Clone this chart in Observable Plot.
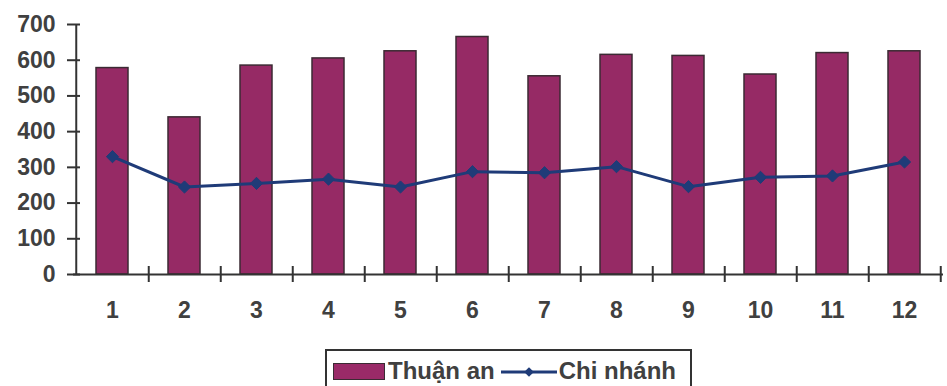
<!DOCTYPE html>
<html>
<head>
<meta charset="utf-8">
<script src="https://cdn.jsdelivr.net/npm/d3@7"></script>
<script src="https://cdn.jsdelivr.net/npm/@observablehq/plot@0.6"></script>
<style>
  body { margin: 0; background: #fff; font-family: "Liberation Sans", Arial, sans-serif; }
  #wrap { position: relative; width: 947px; height: 386px; overflow: hidden; }
  #legend {
    position: absolute; left: 325px; top: 349px; width: 367px; height: 50px;
    box-sizing: border-box; border: 2px solid #333; background: #fff;
    display: flex; align-items: flex-start; padding: 6px 0 0 6px;
    font-size: 24px; font-weight: bold; line-height: 28px; color: #404040;
  }
  #legend .bar { width: 52px; height: 17px; margin: 6px 3px 0 0; background: #9a2a68; border: 1px solid #3b2a33; box-sizing: border-box; }
  #legend svg { margin: 0 2px 0 6px; }
</style>
</head>
<body>
<div id="wrap"><div id="chart"></div><div id="legend"></div></div>
<script>
// Monthly figures: bars for Thuận an, line for Chi nhánh
const months = ["1", "2", "3", "4", "5", "6", "7", "8", "9", "10", "11", "12"];
const thuanAn = [578, 440, 585, 605, 625, 665, 555, 615, 612, 560, 620, 625];
const chiNhanh = [330, 245, 255, 267, 245, 288, 285, 302, 246, 272, 276, 315];
const yTicks = [0, 100, 200, 300, 400, 500, 600, 700];
const seriesNames = ["Thuận an", "Chi nhánh"];

const barColor = "#962a65";
const barEdge = "#3b2a33";
const lineColor = "#1f3b78";
const axisColor = "#333";

const data = months.map((m, i) => ({month: m, thuanAn: thuanAn[i], chiNhanh: chiNhanh[i]}));

const width = 947, height = 340;
const marginLeft = 73, marginRight = 4, marginTop = 24, marginBottom = 66;
const step = (width - marginLeft - marginRight) / months.length;

const plot = Plot.plot({
  width, height, marginLeft, marginRight, marginTop, marginBottom,
  style: {fontFamily: "'Liberation Sans', Arial, sans-serif", fontSize: "23px", fontWeight: "bold", color: "#404040", background: "#fff", overflow: "visible"},
  x: {type: "band", domain: months, padding: 0, axis: null},
  y: {domain: [0, 700], axis: null},
  marks: [
    Plot.barY(data, {x: "month", y: "thuanAn", fill: barColor, stroke: barEdge, strokeWidth: 1.5, insetLeft: 20, insetRight: 20}),
    // vertical axis line at the left edge of the first band
    Plot.ruleX([months[0]], {dx: -step / 2, y1: 0, y2: 700, stroke: axisColor, strokeWidth: 2}),
    Plot.ruleY([0], {stroke: axisColor, strokeWidth: 2}),
    // y ticks crossing the axis line, labels on the left
    Plot.axisY({ticks: yTicks, tickSize: 13, dx: 7, tickPadding: 12, stroke: axisColor, strokeWidth: 2, label: null}),
    // x ticks at band boundaries, crossing the baseline
    Plot.axisX({tickSize: 16, dy: -8, dx: step / 2, tickFormat: () => "", stroke: axisColor, strokeWidth: 2, label: null}),
    // month labels centred under the bars
    Plot.axisX({tickSize: 0, tickPadding: 27, label: null}),
    Plot.line(data, {x: "month", y: "chiNhanh", stroke: lineColor, strokeWidth: 3}),
    Plot.dot(data, {x: "month", y: "chiNhanh", symbol: "diamond2", r: 5.5, fill: lineColor, stroke: lineColor, strokeWidth: 1})
  ]
});
document.getElementById("chart").append(plot);

// legend
const legend = d3.select("#legend");
legend.append("span").attr("class", "bar");
legend.append("span").text(seriesNames[0]);
const sw = legend.append("svg").attr("width", 56).attr("height", 28);
sw.append("line").attr("x1", 0).attr("x2", 56).attr("y1", 15).attr("y2", 15).attr("stroke", lineColor).attr("stroke-width", 3);
sw.append("path").attr("d", d3.symbol(d3.symbolDiamond2, 60)()).attr("transform", "translate(28,15)").attr("fill", lineColor);
legend.append("span").text(seriesNames[1]);
</script>
</body>
</html>
